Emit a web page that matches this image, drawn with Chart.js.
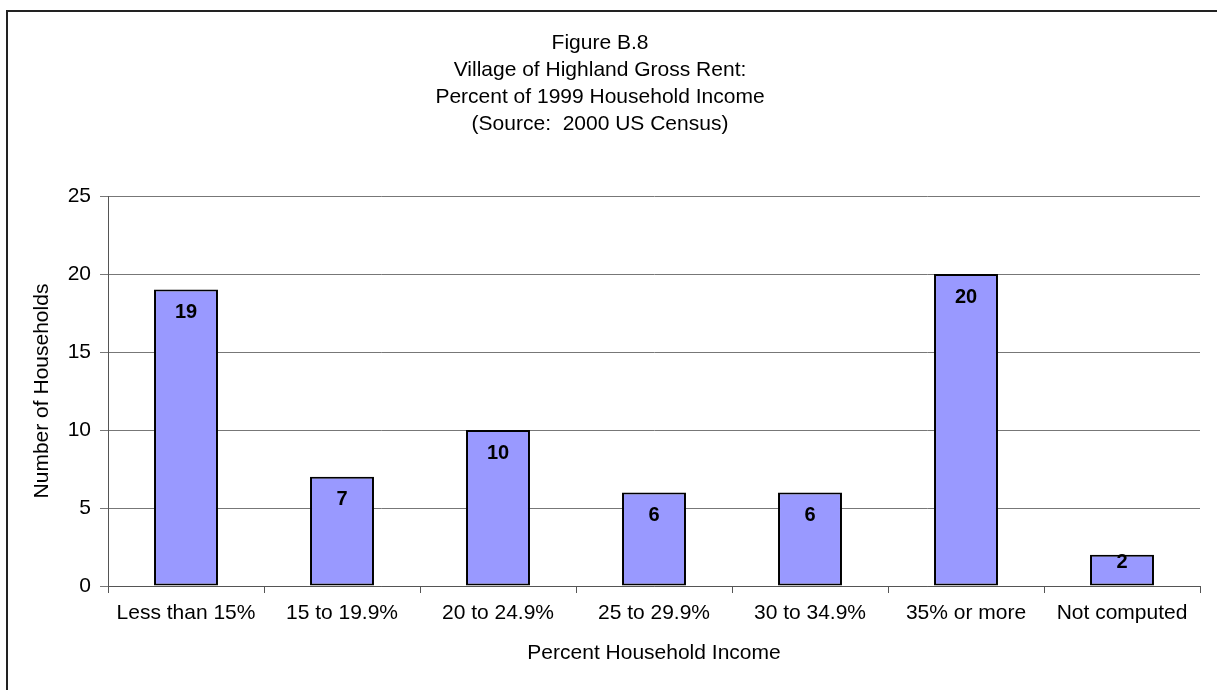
<!DOCTYPE html>
<html>
<head>
<meta charset="utf-8">
<script src="https://cdn.jsdelivr.net/npm/chart.js@4"></script>
<style>
  html, body { margin: 0; padding: 0; background: #fff; }
  #wrap { width: 1217px; height: 690px; }
</style>
</head>
<body>
<div id="wrap"><canvas id="rentChart" width="1217" height="690"></canvas></div>
<script>
// data
const categories = ['Less than 15%', '15 to 19.9%', '20 to 24.9%', '25 to 29.9%', '30 to 34.9%', '35% or more', 'Not computed'];
const households = [19, 7, 10, 6, 6, 20, 2];
const titleLines = ['Figure B.8', 'Village of Highland Gross Rent:', 'Percent of 1999 Household Income', '(Source:  2000 US Census)'];
const yTicks = [0, 5, 10, 15, 20, 25];

const font = 'Liberation Sans, Arial, sans-serif';

// frame around the chart (only top & left show in the picture)
const framePlugin = {
  id: 'frame',
  beforeDraw(chart) {
    const ctx = chart.ctx;
    ctx.save();
    ctx.fillStyle = '#fff';
    ctx.fillRect(0, 0, chart.width, chart.height);
    ctx.strokeStyle = '#222';
    ctx.lineWidth = 2;
    ctx.strokeRect(7, 11, chart.width + 20, chart.height + 20);
    ctx.restore();
  }
};

// value labels inside bar tops
const valueLabels = {
  id: 'valueLabels',
  afterDatasetsDraw(chart) {
    const ctx = chart.ctx;
    const meta = chart.getDatasetMeta(0);
    ctx.save();
    ctx.font = 'bold 20px ' + font;
    ctx.fillStyle = '#000';
    ctx.textAlign = 'center';
    ctx.textBaseline = 'middle';
    meta.data.forEach((bar, i) => {
      const h = bar.base - bar.y;
      const y = h > 46 ? bar.y + 23 : bar.y + 8;
      ctx.fillText(String(households[i]), bar.x, y);
    });
    ctx.restore();
  }
};

const config = {
  type: 'bar',
  data: {
    labels: categories,
    datasets: [{
      data: households,
      backgroundColor: '#9999FF',
      borderColor: '#000',
      borderWidth: 2,
      borderSkipped: false,
      categoryPercentage: 1,
      barPercentage: 0.41,
    }]
  },
  options: {
    responsive: false,
    animation: false,
    layout: { padding: { left: 0, right: 17, top: 0, bottom: 0 } },
    plugins: {
      legend: { display: false },
      tooltip: { enabled: false },
      title: {
        display: true,
        text: titleLines,
        color: '#000',
        font: { family: font, size: 21, weight: 'normal', lineHeight: 1.286 },
        padding: { top: 29.5, bottom: 58.5 },
      }
    },
    scales: {
      x: {
        afterFit(scale) { scale.height = 104; },
        grid: { drawOnChartArea: false, offset: true, tickLength: 7, color: '#555', lineWidth: 1 },
        border: { color: '#555', width: 1 },
        ticks: { color: '#000', font: { family: font, size: 21 }, padding: 8, maxRotation: 0, autoSkip: false },
        title: {
          display: true,
          text: 'Percent Household Income',
          color: '#000',
          font: { family: font, size: 21 },
          padding: { top: 0, bottom: 24 },
        }
      },
      y: {
        min: 0,
        max: 25,
        afterFit(scale) { scale.width = 108; },
        afterBuildTicks(scale) { scale.ticks = yTicks.map(v => ({ value: v })); },
        grid: { color: '#777', lineWidth: 1, tickLength: 8 },
        border: { color: '#555', width: 1 },
        ticks: { color: '#000', font: { family: font, size: 21 }, padding: 9 },
        title: {
          display: true,
          text: 'Number of Households',
          color: '#000',
          font: { family: font, size: 21 },
          padding: { top: 30, bottom: 0 },
        }
      }
    }
  },
  plugins: [framePlugin, valueLabels]
};

new Chart(document.getElementById('rentChart'), config);
</script>
</body>
</html>
